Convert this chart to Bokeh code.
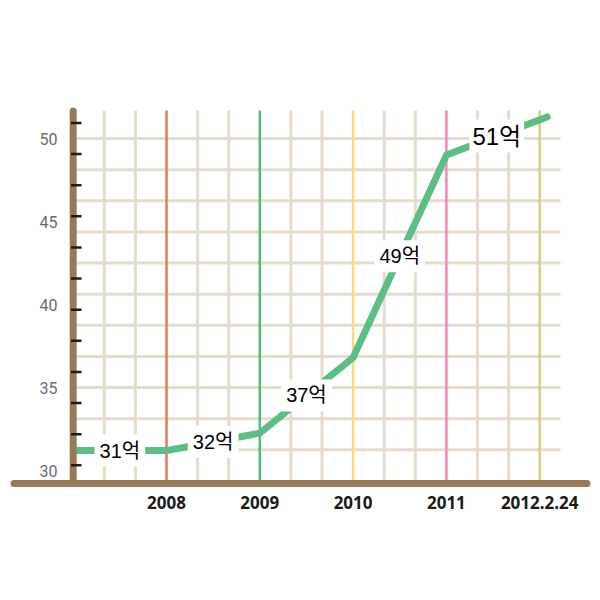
from bokeh.plotting import figure
from bokeh.models import Range1d, FixedTicker
from bokeh.core.properties import value
from bokeh.embed import file_html
from bokeh.resources import INLINE

# ---- data ----
year_labels = ["2008", "2009", "2010", "2011", "2012.2.24"]
year_pos = [1, 2, 3, 4, 5]
line_x = [0, 1, 2, 3, 4, 5.08]
line_values = [31.2, 31.2, 32.25, 36.8, 49.0, 51.3]
value_labels = ["31억", "32억", "37억", "49억", "51억"]
y_tick_values = [30, 35, 40, 45, 50]
marker_colors = ["#e8775e", "#4cbf74", "#fdd978", "#f587b8", "#d8cd7a"]

# ---- layout (pixel geometry of the picture) ----
W, H = 592, 592
BOTTOM = 100
ORIGIN = 0
X0_PX, PX_PER_X = 72.7, 93.3      # px of x=0, px per x unit
Y30_PX, PX_PER_Y = 470.0, 16.6    # px of y=30, px per y unit
frame_top_px, frame_bot_px = ORIGIN, ORIGIN + H - BOTTOM
x_lo = (ORIGIN - X0_PX) / PX_PER_X
x_hi = (ORIGIN + W - X0_PX) / PX_PER_X
y_lo = 30 + (Y30_PX - frame_bot_px) / PX_PER_Y
y_hi = 30 + (Y30_PX - frame_top_px) / PX_PER_Y

def px2y(py):
    return 30 + (Y30_PX - py) / PX_PER_Y

def px2x(px):
    return (px - X0_PX) / PX_PER_X

p = figure(width=W, height=H, output_backend="svg", toolbar_location=None,
           x_range=Range1d(x_lo, x_hi), y_range=Range1d(y_lo, y_hi),
           min_border_left=0, min_border_right=0, min_border_top=0,
           min_border_bottom=BOTTOM, x_axis_location="below")
p.yaxis.visible = False
p.xgrid.visible = False
p.ygrid.visible = False
p.outline_line_color = None
p.background_fill_color = "white"
p.border_fill_color = "white"

base_y = px2y(483)
grid_top = px2y(110)
grid_color = "#e7dbce"

# vertical beige grid lines every 1/3 unit (skip the coloured year lines)
vx = [k / 3 for k in range(1, 16) if k % 3 != 0]
p.segment(x0=vx, y0=[base_y] * len(vx), x1=vx, y1=[grid_top] * len(vx),
          line_color=grid_color, line_width=3)
# horizontal beige grid lines
step = 1.875
hy = [50 - step * k for k in range(0, 11)]
p.segment(x0=[0] * len(hy), y0=hy, x1=[px2x(560)] * len(hy), y1=hy,
          line_color=grid_color, line_width=3)
# coloured year lines
p.segment(x0=year_pos, y0=[base_y] * 5, x1=year_pos, y1=[grid_top] * 5,
          line_color=marker_colors, line_width=2.5)

# green data line
p.line(line_x, line_values, line_color="#5bbf85", line_width=7,
       line_cap="round", line_join="round")

# brown axes
brown = "#977a58"
p.segment(x0=[0], y0=[base_y], x1=[0], y1=[px2y(110.5)],
          line_color=brown, line_width=7, line_cap="round")
p.segment(x0=[px2x(13.5)], y0=[base_y], x1=[px2x(586.5)], y1=[base_y],
          line_color=brown, line_width=7, line_cap="round")

# small black ticks on the y axis
ty = [50 + step / 2 - step * k for k in range(0, 12)]
p.segment(x0=[px2x(70.5)] * len(ty), y0=ty, x1=[px2x(81)] * len(ty), y1=ty,
          line_color="#1a1a1a", line_width=2.5)

# y labels
p.text(x=[px2x(57)] * len(y_tick_values), y=y_tick_values,
       text=[str(v) for v in y_tick_values], text_align="right",
       text_baseline="middle", text_font=value("Roboto"),
       text_font_size="16px", text_color="#656b78")

# value labels at segment midpoints
mx = [(line_x[i] + line_x[i + 1]) / 2 for i in range(5)]
my = [(line_values[i] + line_values[i + 1]) / 2 for i in range(5)]
p.text(x=mx[:4], y=my[:4], text=value_labels[:4], text_align="center",
       text_baseline="middle",
       text_font=value("Liberation Sans, Noto Sans CJK KR"),
       text_font_size="20px", text_color="#000000",
       background_fill_color="white", padding=5)
p.text(x=mx[4:], y=my[4:], text=value_labels[4:], text_align="center",
       text_baseline="middle",
       text_font=value("Liberation Sans, Noto Sans CJK KR"),
       text_font_size="24px", text_color="#000000",
       background_fill_color="white", padding=3)

# x axis labels
ax = p.xaxis[0]
ax.ticker = FixedTicker(ticks=year_pos)
ax.major_label_overrides = {pos: lab for pos, lab in zip(year_pos, year_labels)}
ax.axis_line_color = None
ax.major_tick_line_color = None
ax.minor_tick_line_color = None
ax.major_tick_out = 0
ax.major_tick_in = 0
ax.major_label_standoff = 3
ax.major_label_text_font = "Noto Sans"
ax.major_label_text_font_style = "bold"
ax.major_label_text_font_size = "17px"
ax.major_label_text_color = "#1a1a1a"

open("out.html", "w").write(file_html(p, INLINE))
